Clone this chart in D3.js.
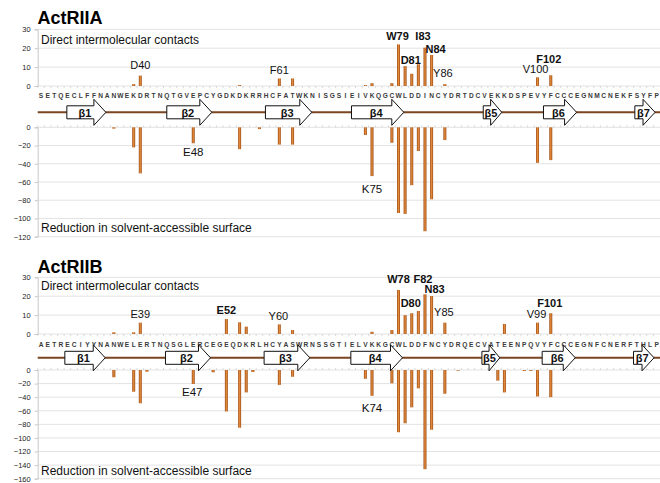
<!DOCTYPE html>
<html><head><meta charset="utf-8">
<script src="https://cdn.jsdelivr.net/npm/d3@7"></script>
<style>body{margin:0;background:#fff}svg{display:block}text{font-family:"Liberation Sans",Arial,sans-serif}</style>
</head><body><svg id="c" width="660" height="483"></svg>
<script>
// ---------- DATA ----------
const seqA = "SETQECLFFNANWEKDRTNQTGVEPCYGDKDKRRHCFATWKNISGSIEIVKQGCWLDDINCYDRTDCVEKKDSPEVYFCCCEGNMCNEKFSYFP".split("");
const seqB = "AETRECIYYNANWELERTNQSGLERCEGEQDKRLHCYASWRNSSGTIELVKKGCWLDDFNCYDRQECVATEENPQVYFCCCEGNFCNERFTHLP".split("");
const firstResA = 25, firstResB = 24;
// [residue number, value]
const contactsA = [[39,1],[40,5.5],[55,0.5],[61,4],[63,4],[74,0.5],[75,1.5],[78,1.5],[79,22],[80,10.5],[81,6.5],[82,11.5],[83,20.3],[84,16.4],[86,1],[100,4.6],[102,5.7]];
const sasaA = [[36,-1.5],[39,-22],[40,-50.5],[48,-17.5],[55,-24],[58,-2],[61,-19],[63,-19],[74,-8.5],[75,-53.5],[78,-17],[79,-94],[80,-95],[81,-63.5],[82,-26],[83,-114],[84,-79],[86,-14],[100,-39],[102,-36]];
const contactsB = [[35,0.9],[38,0.9],[39,6],[52,7.9],[54,6.2],[55,3.9],[60,5.1],[62,2.1],[74,1.2],[77,2.1],[78,23.3],[79,10],[80,11],[81,12.2],[82,21],[83,20.1],[85,6],[94,5.3],[99,6],[101,11]];
const sasaB = [[35,-10.7],[38,-32],[39,-49],[40,-2.5],[47,-20.6],[50,-3.4],[52,-61],[54,-85],[55,-33],[56,-3],[60,-22],[62,-10],[73,-13],[74,-38],[77,-19.6],[78,-91.6],[79,-78.4],[80,-55],[81,-27],[82,-146],[83,-88],[85,-35],[87,-1],[93,-15.7],[94,-33],[97,-1.5],[98,-1.5],[99,-39],[101,-40]];
// strands: [name, start index, tip index]
const strandsA = [["β1",3.9,9.8],["β2",19,25.8],["β3",33.9,40.9],["β4",46.9,54.8],["β5",66.8,69.6],["β6",75.9,80.9],["β7",89.7,92.75]];
const strandsB = [["β1",3.6,9.7],["β2",18.8,25.6],["β3",33.7,40.6],["β4",46.8,54.6],["β5",66.6,69.3],["β6",75.7,80.7],["β7",89.5,92.6]];
// residue labels: [text, residue, bold]
const topLabelsA = [["D40",40,false],["F61",61,false],["W79",79,true],["I83",83,true],["D81",81,true],["N84",84,true],["Y86",86,false],["V100",100,false],["F102",102,true]];
const botLabelsA = [["E48",48,false],["K75",75,false]];
const topLabelsB = [["E39",39,false],["E52",52,true],["Y60",60,false],["W78",78,true],["F82",82,true],["N83",83,true],["D80",80,true],["Y85",85,false],["V99",99,false],["F101",101,true]];
const botLabelsB = [["E47",47,false],["K74",74,false]];
const topTicks = [0,10,20,30];
const botTicksA = [0,-20,-40,-60,-80,-100,-120];
const botTicksB = [0,-20,-40,-60,-80,-100,-120,-140,-160];

// ---------- LAYOUT ----------
const labelPos = { // [dx, y value]
 A:{D40:[0,8.8],F61:[0,6.3],W79:[-1,24.3],I83:[-2,24.3],D81:[-1,11.6],N84:[4,17.6],Y86:[-2,4.6],V100:[-2,7.0],F102:[-2,12.3],E48:[0,-31.5],K75:[0,-71.9]},
 B:{E39:[0,8.3],E52:[0,10.4],Y60:[-1,7.4],W78:[0,26.8],F82:[-2,27.0],N83:[3,21.9],D80:[-1,14.1],Y85:[-1,9.7],V99:[-1,8.3],F101:[-1,14.1],E47:[-1,-38.2],K74:[0,-61.3]}
};
const X0 = 37.7, X1 = 660;
const svg = d3.select("#c");
const defs = svg.append("defs");
const g = defs.append("linearGradient").attr("id","barg").attr("x1","0").attr("x2","1").attr("y1","0").attr("y2","0");
g.append("stop").attr("offset","0%").attr("stop-color","#9c4c16");
g.append("stop").attr("offset","50%").attr("stop-color","#e58c3c");
g.append("stop").attr("offset","100%").attr("stop-color","#9c4c16");

function panel(o){
  const res = d3.range(o.seq.length).map(i=>i+o.first);
  const x = d3.scaleBand().domain(res).range([X0,X1]).padding(0);
  const xi = d3.scaleLinear().domain([0,o.seq.length-1]).range([X0+x.bandwidth()/2, X1-x.bandwidth()/2]);
  const yT = d3.scaleLinear().domain([0,30]).range([o.topY0,o.topY30]);
  const yB = d3.scaleLinear().domain([o.botMin,0]).range([o.botYmin,o.botY0]);
  const cx = r => x(r)+x.bandwidth()/2;
  const root = svg.append("g");

  // grids
  root.selectAll(null).data(topTicks).join("line")
    .attr("x1",X0).attr("x2",X1).attr("y1",d=>yT(d)).attr("y2",d=>yT(d))
    .attr("stroke","#e3e3e3").attr("stroke-width",1);
  root.selectAll(null).data(o.botTicks).join("line")
    .attr("x1",X0).attr("x2",X1).attr("y1",d=>yB(d)).attr("y2",d=>yB(d))
    .attr("stroke","#e3e3e3").attr("stroke-width",1);

  // y axes
  const axT = root.append("g").attr("transform",`translate(${X0},0)`)
    .call(d3.axisLeft(yT).tickValues(topTicks).tickSize(3).tickPadding(4));
  const axB = root.append("g").attr("transform",`translate(${X0},0)`)
    .call(d3.axisLeft(yB).tickValues(o.botTicks).tickSize(3).tickPadding(4));
  [axT,axB].forEach(a=>{
    a.select(".domain").attr("stroke","#c8c8c8");
    a.selectAll(".tick line").attr("stroke","#c8c8c8");
    a.selectAll(".tick text").attr("fill","#222").style("font-size","7.5px").style("font-family","'Liberation Sans',Arial");
  });

  // category ticks on zero lines
  [yT(0), yB(0)].forEach((yy,k)=>{
    root.selectAll(null).data(res).join("line")
      .attr("x1",d=>x(d)).attr("x2",d=>x(d))
      .attr("y1",yy).attr("y2",k===0?yy+2:yy-2)
      .attr("stroke","#d0d0d0").attr("stroke-width",0.8);
  });

  // bars
  root.selectAll(null).data(o.contacts).join("rect")
    .attr("x",d=>cx(d[0])-1.5).attr("width",3)
    .attr("y",d=>yT(d[1])).attr("height",d=>yT(0)-yT(d[1]))
    .attr("fill","url(#barg)");
  root.selectAll(null).data(o.sasa).join("rect")
    .attr("x",d=>cx(d[0])-1.5).attr("width",3)
    .attr("y",yB(0)).attr("height",d=>yB(d[1])-yB(0))
    .attr("fill","url(#barg)");

  // sequence
  root.selectAll(null).data(o.seq).join("text")
    .attr("x",(d,i)=>xi(i)).attr("y",o.seqY).attr("text-anchor","middle")
    .attr("font-size","6.6px").attr("font-weight","bold").attr("fill","#3a3a3a").text(d=>d);

  // secondary structure
  root.append("line").attr("x1",X0).attr("x2",X1).attr("y1",o.ssY).attr("y2",o.ssY)
    .attr("stroke","#7a4520").attr("stroke-width",2);
  o.strands.forEach(s=>{
    const x0 = xi(s[1]), x1 = xi(s[2]);
    const hl = Math.min(12, (x1-x0)*0.6);
    const hb = 6.5, hh = 13, c = o.ssY;
    const p = [[x0,c-hb],[x1-hl,c-hb],[x1-hl,c-hh],[x1,c],[x1-hl,c+hh],[x1-hl,c+hb],[x0,c+hb]];
    root.append("path").attr("d","M"+p.map(q=>q.join(",")).join("L")+"Z")
      .attr("fill","#fff").attr("stroke","#111").attr("stroke-width",1);
    root.append("text").attr("x",(x0+x1)/2-1.5).attr("y",c+4.3).attr("text-anchor","middle")
      .attr("font-size","11px").attr("font-weight","bold").attr("fill","#111").text(s[0]);
  });

  // labels
  const lp = labelPos[o.key];
  o.topLabels.forEach(l=>{
    root.append("text").attr("x",cx(l[1])+lp[l[0]][0]).attr("y",yT(lp[l[0]][1]))
      .attr("text-anchor","middle").attr("font-size","11px").attr("font-weight",l[2]?"bold":"normal")
      .attr("fill","#111").text(l[0]);
  });
  o.botLabels.forEach(l=>{
    root.append("text").attr("x",cx(l[1])+lp[l[0]][0]).attr("y",yB(lp[l[0]][1]))
      .attr("text-anchor","middle").attr("font-size","11.5px").attr("font-weight",l[2]?"bold":"normal")
      .attr("fill","#111").text(l[0]);
  });

  // titles
  root.append("text").attr("x",37.5).attr("y",o.titleY).attr("font-size","18px").attr("font-weight","bold").attr("fill","#000").text(o.title);
  root.append("text").attr("x",41).attr("y",o.subY).attr("font-size","12px").attr("fill","#111").text("Direct intermolecular contacts");
  root.append("text").attr("x",41).attr("y",o.redY).attr("font-size","12px").attr("fill","#111").text("Reduction in solvent-accessible surface");
}

panel({key:"A",title:"ActRIIA",seq:seqA,first:firstResA,contacts:contactsA,sasa:sasaA,strands:strandsA,
  topLabels:topLabelsA,botLabels:botLabelsA,botTicks:botTicksA,botMin:-120,
  titleY:24,subY:44.3,topY0:86,topY30:29.3,seqY:97.6,ssY:112.3,botY0:127.3,botYmin:236.7,redY:231.7});
panel({key:"B",title:"ActRIIB",seq:seqB,first:firstResB,contacts:contactsB,sasa:sasaB,strands:strandsB,
  topLabels:topLabelsB,botLabels:botLabelsB,botTicks:botTicksB,botMin:-160,
  titleY:273.3,subY:290,topY0:334,topY30:277.3,seqY:346.6,ssY:357.8,botY0:370,botYmin:478.7,redY:475});
</script></body></html>
